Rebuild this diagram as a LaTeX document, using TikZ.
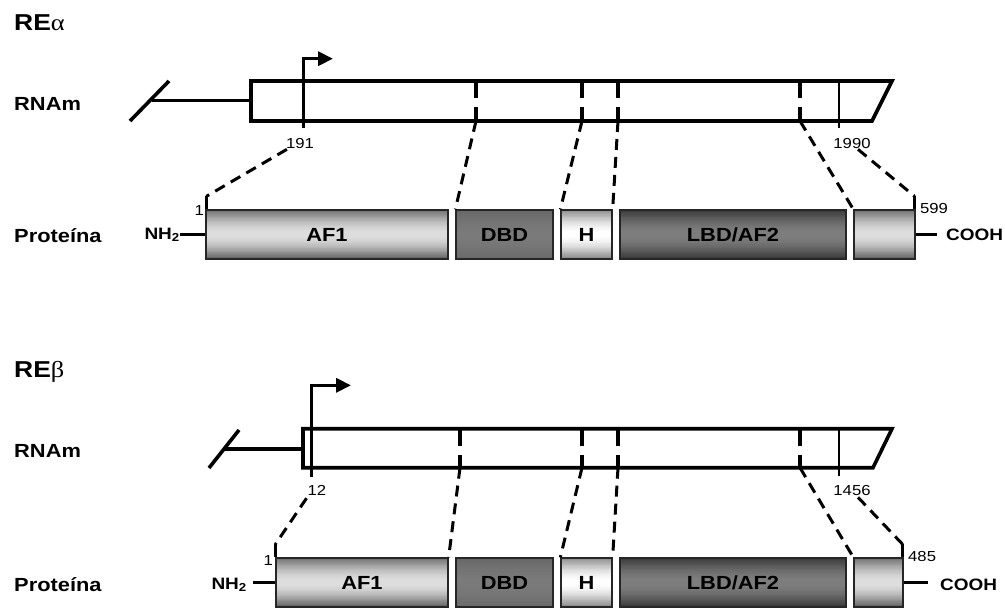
\documentclass[tikz,border=0pt]{standalone}
\usepackage{fontspec}
\setmainfont{Liberation Sans}[FakeStretch=1.15]
\newfontfamily\grk{Liberation Serif}[FakeStretch=1.15]
\usetikzlibrary{arrows.meta,calc}

\newcommand\fsz[1]{\fontsize{#1}{#1}\selectfont}

% domain colours: upper edge, centre, lower edge
\definecolor{lightTop}{HTML}{6E6E6E}
\definecolor{lightMid}{HTML}{DEDEDE}
\definecolor{lightBot}{HTML}{5E5E5E}
\definecolor{flatTop}{HTML}{666666}
\definecolor{flatMid}{HTML}{7A7A7A}
\definecolor{flatBot}{HTML}{6A6A6A}
\definecolor{whiteTop}{HTML}{8A8A8A}
\definecolor{whiteMid}{HTML}{FFFFFF}
\definecolor{whiteBot}{HTML}{858585}
\definecolor{darkTop}{HTML}{383838}
\definecolor{darkMid}{HTML}{7E7E7E}
\definecolor{darkBot}{HTML}{363636}

% vertical three-stop gradient made of thin horizontal strips
\newcommand\stripfill[3]{%
  \foreach \k in {0,...,59}{%
    \pgfmathsetmacro\fa{\k/60}%
    \pgfmathsetmacro\fb{(\k+1.4)/60}%
    \pgfmathsetmacro\fm{(\k+0.5)/60}%
    \pgfmathtruncatemacro\pc{100*sin(180*\fm)}%
    \ifdim\fm pt<0.5pt \def\edgec{#1}\else\def\edgec{#3}\fi
    \fill[#2!\pc!\edgec]
      ($(path picture bounding box.north west)!\fa!(path picture bounding box.south west)$)
      rectangle
      ($(path picture bounding box.north east)!\fb!(path picture bounding box.south east)$);
  }}

\begin{document}
\begin{tikzpicture}[x=1pt,y=-1pt,
  mrnabox/.style={line width=3.6pt, line join=miter},
  tailline/.style={line width=3.6pt},
  startarrow/.style={line width=3.4pt, line join=miter, -{Triangle[length=15pt,width=14pt]}},
  exoncut/.style={line width=3.6pt, dash pattern=on 17pt off 9pt on 20pt},
  siteline/.style={line width=1.2pt},
  mapline/.style={line width=3pt, dash pattern=on 11pt off 7pt},
  tickline/.style={line width=3pt},
  termline/.style={line width=3pt},
  dom/.style={draw=black!85, line width=1.3pt, inner sep=0pt, minimum height=49pt,
              font=\bfseries\fsz{19}},
  domlight/.style={dom, path picture={\stripfill{lightTop}{lightMid}{lightBot}}},
  domflat/.style={dom, path picture={\stripfill{flatTop}{flatMid}{flatBot}}},
  domwhite/.style={dom, path picture={\stripfill{whiteTop}{whiteMid}{whiteBot}}},
  domdark/.style={dom, path picture={\stripfill{darkTop}{darkMid}{darkBot}}},
  title/.style={inner sep=0pt, font=\bfseries\fsz{23}},
  rowlabel/.style={inner sep=0pt, font=\bfseries\fsz{19}},
  numlab/.style={inner sep=0pt, font=\fsz{14.5}},
  termlab/.style={inner sep=0pt, font=\bfseries\fsz{16.5}}
]
\useasboundingbox (0,0) rectangle (1005,608);

% ---------------- Receptor alpha ----------------
\node[title, anchor=base west] (ttlA) at (14,30) {RE{\grk\mdseries α}};
\node[rowlabel, anchor=base west] (rnaA) at (14,110) {RNAm};
\node[rowlabel, anchor=base west] (protA) at (14,242) {Proteína};

% mRNA
\coordinate (mA1) at (251,81);
\coordinate (mA2) at (892,81);
\coordinate (mA3) at (872,121);
\coordinate (mA4) at (251,121);
\draw[mrnabox] (mA1) -- (mA2) -- (mA3) -- (mA4) -- cycle;
\coordinate (tA) at (152,100.5);
\draw[tailline] (tA) -- (mA1 |- tA);
\coordinate (sA1) at (130,121);
\coordinate (sA2) at (169,81);
\draw[tailline] (sA1) -- (sA2);

% exon boundaries
\foreach \x/\n in {476/1,582/2,618/3,800/4}{
  \coordinate (cA\n) at (\x,121);
  \draw[exoncut] (\x,81) -- (cA\n);
}
% start site and stop site
\coordinate (tssA) at (303.3,128);
\coordinate (tssAk) at (303.3,58.7);
\coordinate (tssAe) at (333,58.7);
\draw[startarrow] (tssA) -- (tssAk) -- (tssAe);
\coordinate (stA1) at (839,81);
\coordinate (stA2) at (839,128);
\draw[siteline] (stA1) -- (stA2);
\node[numlab, anchor=base] (n191) at (300,148) {191};
\node[numlab, anchor=base] (n1990) at (852,148) {1990};

% protein
\node[domlight, minimum width=242pt] (afA) at (327,234.5) {AF1};
\node[domflat, minimum width=97pt] (dbdA) at (504.5,234.5) {DBD};
\node[domwhite, minimum width=51pt] (hA) at (586.5,234.5) {H};
\node[domdark, minimum width=226pt] (lbdA) at (733,234.5) {LBD/AF2};
\node[domlight, minimum width=61pt] (lastA) at (884.5,234.5) {};

\node[termlab, anchor=east] (nhA) at (180,235) {NH\textsubscript{2}};
\draw[termline] (nhA.east |- afA.west) -- (afA.west);
\node[termlab, anchor=west] (coA) at (946,235) {COOH};
\draw[termline] (lastA.east) -- ($(coA.west |- lastA.east)+(-9,0)$);

\node[numlab, anchor=base east] (p1A) at (204,215) {1};
\node[numlab, anchor=base west] (p599) at (920,213) {599};

% mapping lines
\coordinate (kA1) at ($(afA.north west)+(1,-13)$);
\coordinate (kA2) at ($(lastA.north east)+(-1,-13)$);
\draw[mapline] ($(n191.south west)+(1,1)$) -- (kA1);
\draw[tickline] (kA1) -- ($(afA.north west)+(1,0)$);
\draw[mapline] ($(n1990.south)+(6,1)$) -- (kA2);
\draw[tickline] (kA2) -- ($(lastA.north east)+(-1,0)$);
\draw[mapline] (cA1) -- (dbdA.north west);
\draw[mapline] (cA2) -- (hA.north west);
\draw[mapline] (cA3) -- (hA.north east);
\draw[mapline] (cA4) -- (lastA.north west);

% ---------------- Receptor beta ----------------
\node[title, anchor=base west] (ttlB) at (14,377) {RE{\grk\mdseries β}};
\node[rowlabel, anchor=base west] (rnaB) at (14,457) {RNAm};
\node[rowlabel, anchor=base west] (protB) at (14,591) {Proteína};

% mRNA
\coordinate (mB1) at (303,428.7);
\coordinate (mB2) at (892,428.7);
\coordinate (mB3) at (873,467.7);
\coordinate (mB4) at (303,467.7);
\draw[mrnabox] (mB1) -- (mB2) -- (mB3) -- (mB4) -- cycle;
\coordinate (tB) at (225,448.7);
\draw[tailline] (tB) -- (mB1 |- tB);
\coordinate (sB1) at (209,468);
\coordinate (sB2) at (239,430);
\draw[tailline] (sB1) -- (sB2);

\foreach \x/\n in {460/1,582/2,618/3,800/4}{
  \coordinate (cB\n) at (\x,467.7);
  \draw[exoncut] (\x,428.7) -- (cB\n);
}
\coordinate (tssB) at (311.7,476.7);
\coordinate (tssBk) at (311.7,385.3);
\coordinate (tssBe) at (351,385.3);
\draw[startarrow] (tssB) -- (tssBk) -- (tssBe);
\coordinate (stB1) at (839,428.7);
\coordinate (stB2) at (839,476);
\draw[siteline] (stB1) -- (stB2);
\node[numlab, anchor=base] (n12) at (317,495) {12};
\node[numlab, anchor=base] (n1456) at (852,495) {1456};

% protein
\node[domlight, minimum width=172pt] (afB) at (362,582.5) {AF1};
\node[domflat, minimum width=97pt] (dbdB) at (504.5,582.5) {DBD};
\node[domwhite, minimum width=51pt] (hB) at (586.5,582.5) {H};
\node[domdark, minimum width=226pt] (lbdB) at (733,582.5) {LBD/AF2};
\node[domlight, minimum width=49pt] (lastB) at (878.5,582.5) {};

\node[termlab, anchor=east] (nhB) at (247,585) {NH\textsubscript{2}};
\draw[termline] ($(nhB.east |- afB.west)+(6,0)$) -- (afB.west);
\node[termlab, anchor=west] (coB) at (940,585) {COOH};
\draw[termline] (lastB.east) -- ($(coB.west |- lastB.east)+(-12,0)$);

\node[numlab, anchor=base east] (p1B) at (273,565) {1};
\node[numlab, anchor=base west] (p485) at (908,561) {485};

\coordinate (kB1) at ($(afB.north west)+(0,-13)$);
\coordinate (kB2) at ($(lastB.north east)+(-1,-13)$);
\draw[mapline] ($(n12.south west)+(-1,3)$) -- (kB1);
\draw[tickline] (kB1) -- (afB.north west);
\draw[mapline] ($(n1456.south)+(6,2)$) -- (kB2);
\draw[tickline] (kB2) -- ($(lastB.north east)+(-1,0)$);
\draw[mapline] (cB1) -- (afB.north east);
\draw[mapline] (cB2) -- (hB.north west);
\draw[mapline] (cB3) -- (hB.north east);
\draw[mapline] (cB4) -- (lastB.north west);
\end{tikzpicture}
\end{document}
